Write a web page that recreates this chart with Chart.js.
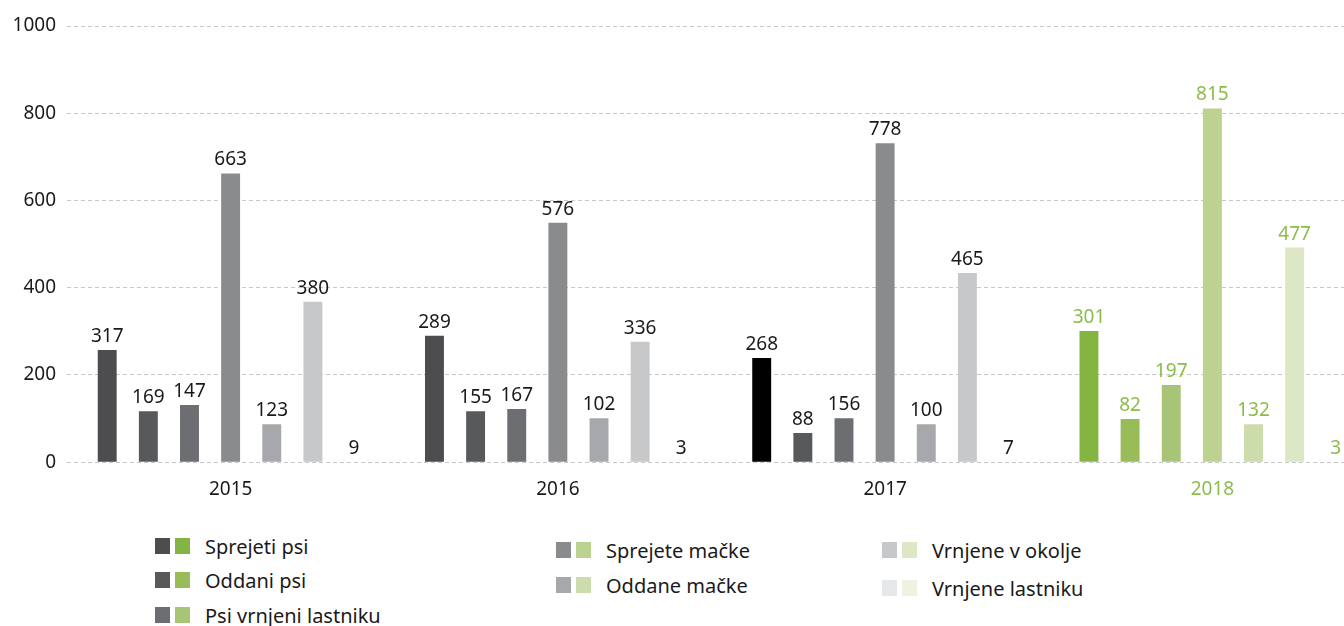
<!DOCTYPE html>
<html>
<head>
<meta charset="utf-8">
<script src="https://cdn.jsdelivr.net/npm/chart.js@4/dist/chart.umd.min.js"></script>
<style>
  body { margin: 0; background: #fff; overflow: hidden; font-family: "Noto Sans", sans-serif; }
  #wrap { position: absolute; left: 0; top: 0; width: 1376px; height: 526px; }
  #legend { position: absolute; left: 0; top: 0; width: 1344px; }
  .item { position: absolute; display: flex; align-items: center; font-size: 20px; color: #1a1a1a; height: 26px; white-space: nowrap; }
  .sq { width: 15px; height: 16px; margin-right: 5px; flex: none; }
  .item span.txt { margin-left: 10px; }
</style>
</head>
<body>
<div id="wrap"><canvas id="chart" width="1376" height="526"></canvas></div>
<div id="legend"></div>
<script>
// leta
const years = ["2015", "2016", "2017", "2018"];

// imena serij
const seriesNames = ["Sprejeti psi", "Oddani psi", "Psi vrnjeni lastniku", "Sprejete mačke", "Oddane mačke", "Vrnjene v okolje", "Vrnjene lastniku"];

// visine stolpcev (odcitano s slike)
const sprejetiPsi = [257, 290, 239, 301];
const oddaniPsi = [117, 117, 67, 99];
const psiVrnjeni = [131, 122, 101, 177];
const sprejeteMacke = [662, 549, 731, 811];
const oddaneMacke = [87, 101, 87, 87];
const vrnjeneOkolje = [368, 276, 434, 492];
const vrnjeneLastniku = [0, 0, 0, 0];

// napisi nad stolpci
const sprejetiPsiLbl = [317, 289, 268, 301];
const oddaniPsiLbl = [169, 155, 88, 82];
const psiVrnjeniLbl = [147, 167, 156, 197];
const sprejeteMackeLbl = [663, 576, 778, 815];
const oddaneMackeLbl = [123, 102, 100, 132];
const vrnjeneOkoljeLbl = [380, 336, 465, 477];
const vrnjeneLastnikuLbl = [9, 3, 7, 3];

const yTicks = [0, 200, 400, 600, 800, 1000];

const grays = ["#4d4d4f", "#58595b", "#6d6e71", "#8a8b8d", "#a7a8ab", "#c7c8ca", "#e6e7e8"];
const greens = ["#84b441", "#98bd58", "#a8c577", "#bdd190", "#cddcab", "#dde6c5", "#eef2e2"];
const green = "#8bbd4a";

const values = [sprejetiPsi, oddaniPsi, psiVrnjeni, sprejeteMacke, oddaneMacke, vrnjeneOkolje, vrnjeneLastniku];
const labels = [sprejetiPsiLbl, oddaniPsiLbl, psiVrnjeniLbl, sprejeteMackeLbl, oddaneMackeLbl, vrnjeneOkoljeLbl, vrnjeneLastnikuLbl];

const datasets = values.map((v, i) => {
  const cols = [grays[i], grays[i], grays[i], greens[i]];
  if (i === 0) cols[2] = "#000000"; // 2017 crn stolpec
  return {
    label: seriesNames[i],
    data: v,
    valueLabels: labels[i],
    backgroundColor: cols,
    borderWidth: 0,
    categoryPercentage: 0.88,
    barPercentage: 0.46,
  };
});

// napisi vrednosti
const valueLabelPlugin = {
  id: "valueLabels",
  afterDatasetsDraw(chart) {
    const ctx = chart.ctx;
    ctx.save();
    ctx.font = "19px 'Noto Sans'";
    ctx.textAlign = "center";
    ctx.textBaseline = "alphabetic";
    chart.data.datasets.forEach((ds, i) => {
      chart.getDatasetMeta(i).data.forEach((bar, j) => {
        ctx.fillStyle = j === 3 ? green : "#1a1a1a";
        ctx.fillText(String(ds.valueLabels[j]), bar.x, bar.y - 8);
      });
    });
    ctx.restore();
  },
};

new Chart(document.getElementById("chart"), {
  type: "bar",
  data: { labels: years, datasets: datasets },
  options: {
    responsive: false,
    animation: false,
    layout: { padding: { top: 26, bottom: 9, left: 0, right: 0 } },
    plugins: { legend: { display: false }, tooltip: { enabled: false } },
    scales: {
      x: {
        grid: { display: false, drawTicks: false },
        border: { display: false },
        ticks: {
          padding: 16,
          font: { family: "Noto Sans", size: 19 },
          color: (c) => (c.index === 3 ? green : "#1a1a1a"),
        },
      },
      y: {
        min: 0,
        max: 1000,
        afterFit: (s) => { s.width = 67; },
        afterBuildTicks: (s) => { s.ticks = yTicks.map((v) => ({ value: v })); },
        border: { display: false, dash: [4, 3] },
        grid: { color: "#c8c8c8", lineWidth: 1, drawTicks: false },
        ticks: {
          padding: 11,
          font: { family: "Noto Sans", size: 19 },
          color: "#1a1a1a",
          callback: (v) => String(v),
        },
      },
    },
  },
  plugins: [valueLabelPlugin],
});

// legenda
const legendPos = [
  [155, 546], [155, 580], [155, 615],
  [556, 550], [556, 585],
  [882, 550], [882, 588],
];
const legend = document.getElementById("legend");
seriesNames.forEach((name, i) => {
  const el = document.createElement("div");
  el.className = "item";
  el.style.left = legendPos[i][0] + "px";
  el.style.top = (legendPos[i][1] - 13) + "px";
  el.innerHTML = '<div class="sq" style="background:' + grays[i] + '"></div>' +
    '<div class="sq" style="background:' + greens[i] + '"></div>' +
    '<span class="txt">' + name + '</span>';
  legend.appendChild(el);
});
</script>
</body>
</html>
